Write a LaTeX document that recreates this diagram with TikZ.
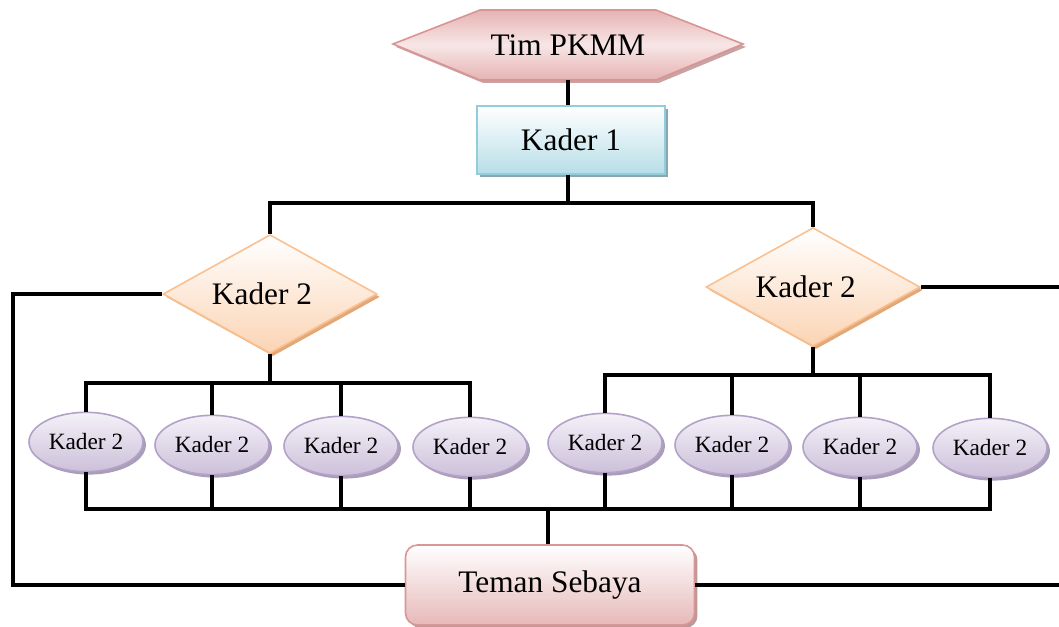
\documentclass[tikz,border=0pt]{standalone}
\usepackage{fontspec}
\setmainfont{Liberation Serif}
\usetikzlibrary{shapes.geometric,shadows}
\definecolor{hexb}{HTML}{D99594}
\definecolor{hexf}{HTML}{E6B3B3}
\definecolor{hexm}{HTML}{F7E6E6}
\definecolor{hexs}{HTML}{C8A3A3}
\definecolor{kb}{HTML}{92CDDC}
\definecolor{kf}{HTML}{B7DEE8}
\definecolor{ks}{HTML}{8AA7AF}
\definecolor{db}{HTML}{FAC08F}
\definecolor{df}{HTML}{FBD4B4}
\definecolor{ds}{HTML}{E2A878}
\definecolor{eb}{HTML}{B2A2C7}
\definecolor{ef}{HTML}{CCC0DA}
\definecolor{et}{HTML}{F4F1F8}
\definecolor{es}{HTML}{A99DB8}
\definecolor{tb}{HTML}{D99694}
\definecolor{tf}{HTML}{E6B9B8}
\definecolor{ts}{HTML}{BD9898}
\tikzset{
  bigtext/.style={font=\fontsize{23.5}{28}\selectfont},
  smalltext/.style={font=\fontsize{17.5}{21}\selectfont},
  conn/.style={draw=black,line width=2.5pt},
  hexshape/.style={draw=hexb,line width=1.2pt,top color=hexf,bottom color=hexf,middle color=hexm,
    drop shadow={shadow xshift=2.2pt,shadow yshift=-2.2pt,fill=hexs,opacity=1}},
  k1box/.style={rectangle,draw=kb,line width=1.2pt,top color=white,bottom color=kf,
    minimum width=141pt,minimum height=51pt,bigtext,
    drop shadow={shadow xshift=2.2pt,shadow yshift=-2.2pt,fill=ks,opacity=1}},
  dbox/.style={diamond,aspect=1.8,draw=db,line width=1.2pt,top color=white,bottom color=df,
    minimum width=160.5pt,minimum height=89pt,inner sep=0pt,bigtext,
    drop shadow={shadow xshift=2.2pt,shadow yshift=-2.2pt,fill=ds,opacity=1}},
  ebox/.style={ellipse,draw=eb,line width=1.2pt,top color=et,bottom color=ef,
    minimum width=85.5pt,minimum height=44.5pt,inner sep=0pt,smalltext,
    drop shadow={shadow xshift=2.2pt,shadow yshift=-2.2pt,fill=es,opacity=1}},
  tbox/.style={rectangle,rounded corners=9pt,draw=tb,line width=1.2pt,top color=white,bottom color=tf,
    minimum width=216.75pt,minimum height=60pt,bigtext,
    drop shadow={shadow xshift=2.2pt,shadow yshift=-2.2pt,fill=ts,opacity=1}}
}
\begin{document}
\begin{tikzpicture}[x=0.75pt,y=-0.75pt]
\path[use as bounding box] (0,0) rectangle (1059,627);
% hexagon
\path[hexshape] (393,44) -- (480,10) -- (656,10) -- (743,44) -- (656,80) -- (480,80) -- cycle;
\node[bigtext,minimum width=262.5pt,minimum height=52.5pt,inner sep=0pt] (tim) at (568,45) {Tim PKMM};
\node[k1box] (k1) at (571,140) {Kader 1};
\node[dbox] (dl) at (270,294) {\hspace*{-12pt}Kader 2};
\node[dbox] (dr) at (813,287) {\hspace*{-11pt}Kader 2};
\node[ebox] (e1) at (86,442) {Kader 2};
\node[ebox] (e2) at (212,445) {Kader 2};
\node[ebox] (e3) at (341,446) {Kader 2};
\node[ebox] (e4) at (470,447) {Kader 2};
\node[ebox] (e5) at (605,443) {Kader 2};
\node[ebox] (e6) at (732,445) {Kader 2};
\node[ebox] (e7) at (860,447) {Kader 2};
\node[ebox] (e8) at (990,448) {Kader 2};
\node[tbox] (ts) at (550,585) {Teman Sebaya};
% junction coordinates
\coordinate (j1) at (568,203);
\coordinate (jl) at (270,383);
\coordinate (jr) at (813,375);
\coordinate (jb) at (548,509);
\coordinate (lx) at (13,293);
\coordinate (rx) at (1059,287);
\coordinate (rb) at (1059,587);
% connectors
\draw[conn] (tim.south -| j1) -- (k1.north -| j1);
\draw[conn] (k1.south -| j1) -- (j1);
\draw[conn] (dl.north) -- (dl.north |- j1) -- (dr.north |- j1) -- (dr.north);
\draw[conn] (dl.west) -- (dl.west -| lx) |- (ts.west);
\draw[conn] (dr.east) -- (dr.east -| rx);
\draw[conn] (ts.east) -- (ts.east -| rb);
% left bus
\draw[conn] (dl.south) -- (jl);
\draw[conn] (e1.north) -- (e1.north |- jl) -- (e4.north |- jl) -- (e4.north);
\draw[conn] (e2.north) -- (e2.north |- jl);
\draw[conn] (e3.north) -- (e3.north |- jl);
% right bus
\draw[conn] (dr.south) -- (jr);
\draw[conn] (e5.north) -- (e5.north |- jr) -- (e8.north |- jr) -- (e8.north);
\draw[conn] (e6.north) -- (e6.north |- jr);
\draw[conn] (e7.north) -- (e7.north |- jr);
% bottom bus
\draw[conn] (e1.south) -- (e1.south |- jb) -- (e8.south |- jb) -- (e8.south);
\foreach \n in {e2,e3,e4,e5,e6,e7} \draw[conn] (\n.south) -- (\n.south |- jb);
\draw[conn] (jb) -- (ts.north -| jb);
\end{tikzpicture}
\end{document}
